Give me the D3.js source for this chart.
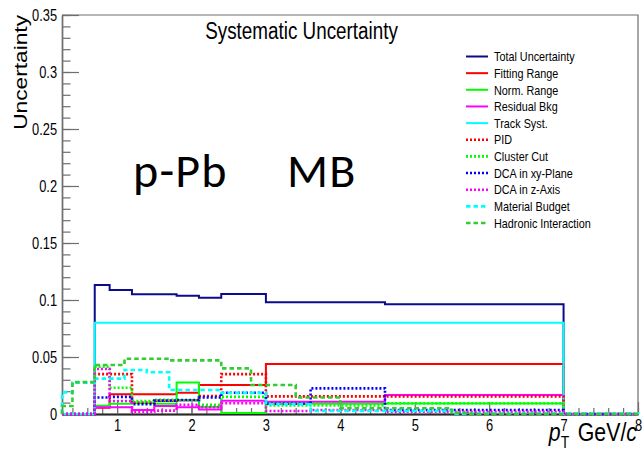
<!DOCTYPE html>
<html>
<head>
<meta charset="utf-8">
<script src="https://cdn.jsdelivr.net/npm/d3@7/dist/d3.min.js"></script>
<style>
  html, body { margin: 0; padding: 0; background: #fff; }
  svg { display: block; }
</style>
</head>
<body>
<svg id="chart" width="642" height="459"></svg>
<script>
// ---- data -------------------------------------------------------------
// pT bin edges (GeV/c) of the analysis binning
const ptEdges = [0.26, 0.4, 0.7, 0.9, 1.2, 1.5, 1.8, 2.1, 2.4, 3.0, 3.6, 4.6, 7.0, 8.0];

const totalUnc     = [0, 0, 0.1132, 0.1088, 0.1050, 0.1050, 0.1038, 0.1020, 0.1053, 0.0980, 0.0980, 0.0962, 0];
const fittingRange = [0, 0, 0.0055, 0.0173, 0.0173, 0.0173, 0.0187, 0.0255, 0.0255, 0.0438, 0.0438, 0.0438, 0];
const normRange    = [0, 0, 0.0073, 0.0090, 0.0095, 0.0090, 0.0277, 0.0062, 0.0008, 0.0090, 0.0090, 0.0093, 0];
const residualBkg  = [0, 0, 0.0060, 0.0060, 0.0035, 0.0070, 0.0060, 0.0040, 0.0116, 0.0108, 0.0108, 0.0167, 0];
const trackSyst    = [0, 0, 0.0800, 0.0800, 0.0800, 0.0800, 0.0800, 0.0800, 0.0800, 0.0800, 0.0800, 0.0800, 0];
const pidSyst      = [0, 0, 0.0350, 0.0350, 0.0100, 0.0117, 0.0120, 0.0158, 0.0350, 0.0155, 0.0155, 0.0153, 0];
const clusterCut   = [0, 0, 0.0415, 0.0230, 0.0114, 0.0125, 0.0120, 0.0080, 0.0150, 0.0075, 0.0075, 0.0094, 0];
const dcaXY        = [0, 0, 0.0145, 0.0150, 0.0085, 0.0117, 0.0123, 0.0145, 0.0187, 0.0090, 0.0225, 0.0035, 0];
const dcaZ         = [0, 0, 0.0395, 0.0114, 0.0020, 0.0030, 0.0080, 0.0060, 0.0094, 0.0026, 0.0035, 0.0020, 0];

// material budget and hadronic interaction come with their own binning
const materialEdges  = [0.26, 0.4, 0.7, 1.1, 1.4, 1.7, 2.4, 3.0, 3.6, 5.5, 8.0];
const materialBudget = [0.0190, 0.0275, 0.0310, 0.0386, 0.0366, 0.0210, 0.0185, 0.0085, 0.0027, 0.0003];

const hadronicEdges  = [0.26, 0.4, 0.7, 1.1, 1.7, 2.4, 2.8, 3.4, 4.0, 5.5, 5.75, 8.0];
const hadronicInt    = [0.0070, 0.0280, 0.0430, 0.0485, 0.0470, 0.0400, 0.0255, 0.0145, 0.0050, 0.0010, 0];

const seriesNames = ["Total Uncertainty", "Fitting Range", "Norm. Range", "Residual Bkg",
  "Track Syst.", "PID", "Cluster Cut", "DCA in xy-Plane", "DCA in z-Axis",
  "Material Budget", "Hadronic Interaction"];

const yTickValues = [0, 0.05, 0.1, 0.15, 0.2, 0.25, 0.3, 0.35];
const yTickLabels = ["0", "0.05", "0.1", "0.15", "0.2", "0.25", "0.3", "0.35"];
const xTickValues = [1, 2, 3, 4, 5, 6, 7, 8];
const xTickLabels = ["1", "2", "3", "4", "5", "6", "7", "8"];

// ---- styles ------------------------------------------------------------
const DOTTED = "2,2", DASHED = "4.5,3";
const series = [
  { edges: ptEdges, values: totalUnc,       color: "#0b0b8c", dash: null },
  { edges: ptEdges, values: fittingRange,   color: "#ff0000", dash: null },
  { edges: ptEdges, values: normRange,      color: "#00ff00", dash: null },
  { edges: ptEdges, values: residualBkg,    color: "#ff00ff", dash: null },
  { edges: ptEdges, values: trackSyst,      color: "#00ffff", dash: null },
  { edges: ptEdges, values: pidSyst,        color: "#ff0000", dash: DOTTED },
  { edges: ptEdges, values: clusterCut,     color: "#00ff00", dash: DOTTED },
  { edges: ptEdges, values: dcaXY,          color: "#0000ff", dash: DOTTED },
  { edges: ptEdges, values: dcaZ,           color: "#ff00ff", dash: DOTTED },
  { edges: materialEdges, values: materialBudget, color: "#00ffff", dash: DASHED },
  { edges: hadronicEdges, values: hadronicInt,    color: "#33cc33", dash: DASHED }
].map((s, i) => Object.assign(s, { name: seriesNames[i] }));

const FONT = "'Liberation Sans', Arial, Helvetica, sans-serif";
const SQUEEZE = 0.82;   // narrow Helvetica look of the canvas text
const AXIS_GREY = "#6e6e6e";

// ---- layout ------------------------------------------------------------
const svg = d3.select("#chart");
svg.append("rect").attr("width", 642).attr("height", 459).attr("fill", "#fff");

const plotL = 62, plotR = 638, plotT = 15, plotB = 414;
const x = d3.scaleLinear().domain([ptEdges[0], ptEdges[ptEdges.length - 1]]).range([plotL, plotR]);
const y = d3.scaleLinear().domain([0, 0.35]).range([plotB, plotT]);

// frame (top and right sides)
svg.append("path")
  .attr("d", `M${plotL},${plotT}H${plotR}V${plotB}`)
  .attr("fill", "none").attr("stroke", AXIS_GREY).attr("stroke-width", 1.2);

// ---- y axis -------------------------------------------------------------
const gyMinor = svg.append("g").attr("transform", `translate(${plotL},0)`)
  .call(d3.axisLeft(y).tickValues(d3.range(0, 0.3501, 0.01)).tickSize(-8.5).tickSizeOuter(0).tickFormat(""));
const gy = svg.append("g").attr("transform", `translate(${plotL},0)`)
  .call(d3.axisLeft(y).tickValues(yTickValues).tickSize(-17).tickSizeOuter(0).tickPadding(6)
    .tickFormat((d, i) => yTickLabels[i]));

// ---- x axis -------------------------------------------------------------
const xMinorVals = d3.range(4, 81, 2).map(v => v / 10);
const gxMinor = svg.append("g").attr("transform", `translate(0,${plotB})`)
  .call(d3.axisBottom(x).tickValues(xMinorVals).tickSize(-6).tickSizeOuter(0).tickFormat(""));
const gx = svg.append("g").attr("transform", `translate(0,${plotB})`)
  .call(d3.axisBottom(x).tickValues(xTickValues).tickSize(-12).tickSizeOuter(0).tickPadding(6)
    .tickFormat((d, i) => xTickLabels[i]));

[gyMinor, gy, gxMinor, gx].forEach(g => {
  g.selectAll("line").attr("stroke", AXIS_GREY).attr("stroke-width", 1.2);
  g.select(".domain").attr("stroke", AXIS_GREY).attr("stroke-width", 1.4);
});
gx.select(".domain").attr("stroke", "#2a2a2a").attr("stroke-width", 2);
gy.selectAll("text")
  .attr("font-family", FONT).attr("font-size", 15.7).attr("fill", "#000")
  .attr("transform", `scale(${SQUEEZE},1)`);
gx.selectAll("text")
  .attr("font-family", FONT).attr("font-size", 15.7).attr("fill", "#000")
  .attr("transform", `scale(${SQUEEZE},1)`);

// ---- histograms ---------------------------------------------------------
function stepPoints(edges, values) {
  const pts = [[edges[0], 0]];
  values.forEach((v, i) => { pts.push([edges[i], v]); pts.push([edges[i + 1], v]); });
  pts.push([edges[edges.length - 1], 0]);
  return pts;
}
const line = d3.line().x(d => x(d[0])).y(d => y(d[1]));

svg.append("g").selectAll("path.hist")
  .data(series)
  .join("path")
  .attr("class", "hist")
  .attr("d", s => line(stepPoints(s.edges, s.values)))
  .attr("fill", "none")
  .attr("stroke", s => s.color)
  .attr("stroke-width", s => s.dash ? 2.6 : 2)
  .attr("stroke-dasharray", s => s.dash);

// ---- texts --------------------------------------------------------------
function squeezedText(px, py, str, size, anchor) {
  return svg.append("text")
    .attr("transform", `translate(${px},${py}) scale(${SQUEEZE},1)`)
    .attr("font-family", FONT).attr("font-size", size)
    .attr("text-anchor", anchor || "start").attr("fill", "#000")
    .text(str);
}

// title
squeezedText(301.5, 38.5, "Systematic Uncertainty", 23, "middle");

// y axis title
svg.append("text")
  .attr("transform", `translate(27,${plotT}) scale(${SQUEEZE},1) rotate(-90)`)
  .attr("font-family", FONT).attr("font-size", 22.7)
  .attr("text-anchor", "end").attr("fill", "#000")
  .text("Uncertainty");

// x axis title: p_T GeV/c
const xt = svg.append("text")
  .attr("transform", `translate(637,441) scale(${SQUEEZE},1)`)
  .attr("font-family", FONT).attr("font-size", 26)
  .attr("text-anchor", "end").attr("fill", "#000");
xt.append("tspan").attr("font-style", "italic").text("p");
xt.append("tspan").attr("font-size", 17).attr("dy", 7).text("T");
xt.append("tspan").attr("dy", -7).text("\u2009\u2009GeV/");
xt.append("tspan").attr("font-style", "italic").text("c");

// collision system label
const sys = svg.append("text")
  .attr("x", 133).attr("y", 187)
  .attr("font-family", "Carlito, Lato, 'Open Sans', sans-serif")
  .attr("font-size", 48).attr("letter-spacing", 1.2).attr("fill", "#000");
sys.append("tspan").text("p-Pb");
sys.append("tspan").attr("x", 287).text("MB");

// ---- legend -------------------------------------------------------------
const legRow0 = 56.5, legStep = 16.65;
const leg = svg.append("g");
series.forEach((s, i) => {
  const ly = legRow0 + i * legStep;
  leg.append("line")
    .attr("x1", 466).attr("x2", 488).attr("y1", ly).attr("y2", ly)
    .attr("stroke", s.color).attr("stroke-width", s.dash ? 2.6 : 2)
    .attr("stroke-dasharray", s.dash);
  squeezedText(494, ly + 4.7, s.name, 13.2, "start");
});
</script>
</body>
</html>
